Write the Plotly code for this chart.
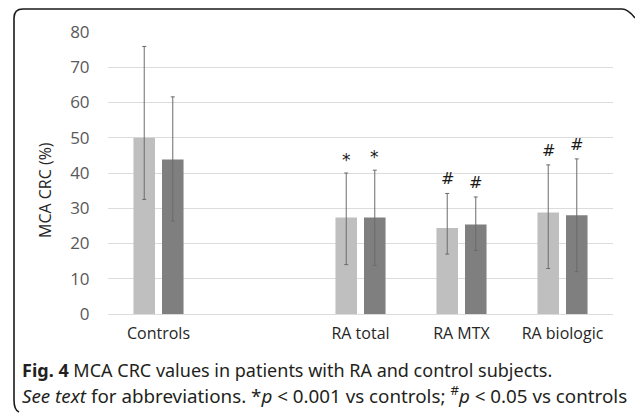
import plotly.graph_objects as go

categories = ["Controls", "RA total", "RA MTX", "RA biologic"]
axis_categories = ["Controls", " ", "RA total", "RA MTX", "RA biologic"]

series1_values = [50.0, 27.4, 24.4, 28.8]
series1_err_plus = [25.9, 12.6, 9.8, 13.5]
series1_err_minus = [17.5, 13.4, 7.4, 15.9]

series2_values = [43.8, 27.4, 25.4, 28.0]
series2_err_plus = [17.8, 13.4, 7.8, 16.0]
series2_err_minus = [17.4, 13.6, 7.4, 16.0]

significance = ["", "*", "#", "#"]

y_ticks = [0, 10, 20, 30, 40, 50, 60, 70, 80]

W, H = 635, 413
ML, MR, MT, MB = 108, 22, 32, 99
pw = W - ML - MR
ph = H - MT - MB


def px2paper(px, py):
    return ((px - ML) / pw, 1 - (py - MT) / ph)


fig = go.Figure()
err_style = dict(type="data", symmetric=False, color="#6b6b6b", thickness=1, width=2)
fig.add_trace(go.Bar(
    x=categories, y=series1_values, marker=dict(color="#bfbfbf", line=dict(width=0)),
    error_y=dict(array=series1_err_plus, arrayminus=series1_err_minus, **err_style),
    showlegend=False,
))
fig.add_trace(go.Bar(
    x=categories, y=series2_values, marker=dict(color="#7f7f7f", line=dict(width=0)),
    error_y=dict(array=series2_err_plus, arrayminus=series2_err_minus, **err_style),
    showlegend=False,
))

annotations = []
slot = pw / len(axis_categories)
bar_shift = slot * (1 - 0.435) / 4
for i, cat in enumerate(categories):
    sym = significance[i]
    if not sym:
        continue
    for vals, ep, sh in [(series1_values, series1_err_plus, -bar_shift),
                         (series2_values, series2_err_plus, bar_shift)]:
        annotations.append(dict(
            x=cat, y=vals[i] + ep[i], xref="x", yref="y", text=sym, showarrow=False,
            xshift=sh, yshift=1 if sym == "*" else 3, yanchor="bottom",
            font=dict(family="DejaVu Sans", size=16 if sym == "#" else 17, color="#1a1a1a"),
        ))

# y axis title
tx, ty = px2paper(45, 190)
annotations.append(dict(
    x=tx, y=ty, xref="paper", yref="paper", xanchor="center", yanchor="middle",
    showarrow=False, textangle=-90, text="MCA CRC (%)",
    font=dict(family="Open Sans", size=16, color="#262626"),
))

cap_font = "Noto Sans"
cx, cy1 = px2paper(20, 370)
_, cy2 = px2paper(20, 395)
annotations.append(dict(
    x=cx, y=cy1, xref="paper", yref="paper", xanchor="left", yanchor="middle",
    showarrow=False, align="left",
    text="<b>Fig. 4</b> MCA CRC values in patients with RA and control subjects.",
    font=dict(family=cap_font, size=18, color="#231f20"),
))
annotations.append(dict(
    x=cx, y=cy2, xref="paper", yref="paper", xanchor="left", yanchor="middle",
    showarrow=False, align="left",
    text="<i>See text</i> for abbreviations. *<i>p</i> &lt; 0.001 vs controls; <sup>#</sup><i>p</i> &lt; 0.05 vs controls",
    font=dict(family=cap_font, size=18.8, color="#231f20"),
))

pts = [(635, 18), (628, 9), (622, 9), (23, 9), (14, 9), (14, 18), (14, 400), (14, 410), (19, 412)]
conv = [px2paper(*p) for p in pts]
path = (f"M {conv[0][0]},{conv[0][1]} Q {conv[1][0]},{conv[1][1]} {conv[2][0]},{conv[2][1]} "
        f"L {conv[3][0]},{conv[3][1]} Q {conv[4][0]},{conv[4][1]} {conv[5][0]},{conv[5][1]} "
        f"L {conv[6][0]},{conv[6][1]} Q {conv[7][0]},{conv[7][1]} {conv[8][0]},{conv[8][1]}")

fig.update_layout(
    width=W, height=H,
    margin=dict(l=ML, r=MR, t=MT, b=MB),
    paper_bgcolor="white", plot_bgcolor="white",
    barmode="group", bargap=0.435, bargroupgap=0.245,
    font=dict(family="Open Sans", color="#595959"),
    xaxis=dict(
        categoryorder="array", categoryarray=axis_categories, type="category",
        range=[-0.5, 4.5],
        showgrid=False, showline=False, zeroline=False,
        ticks="outside", ticklen=5, tickcolor="rgba(0,0,0,0)",
        tickfont=dict(family="Open Sans", size=16, color="#262626"),
    ),
    yaxis=dict(
        range=[0, 80], tickvals=y_ticks, showgrid=True, gridcolor="#dcdcdc", gridwidth=1,
        zeroline=True, zerolinecolor="#dcdcdc", zerolinewidth=1, showline=False,
        ticks="outside", ticklen=14, tickcolor="rgba(0,0,0,0)",
        tickfont=dict(family="Open Sans", size=17, color="#595959"),
        automargin=False,
    ),
    annotations=annotations,
    shapes=[dict(type="path", path=path, xref="paper", yref="paper",
                 line=dict(color="#1a1a1a", width=1.6))],
)

fig.write_html("out.html", config={"displayModeBar": False},
               post_script="document.body.style.margin='0';document.body.style.overflow='hidden';")
